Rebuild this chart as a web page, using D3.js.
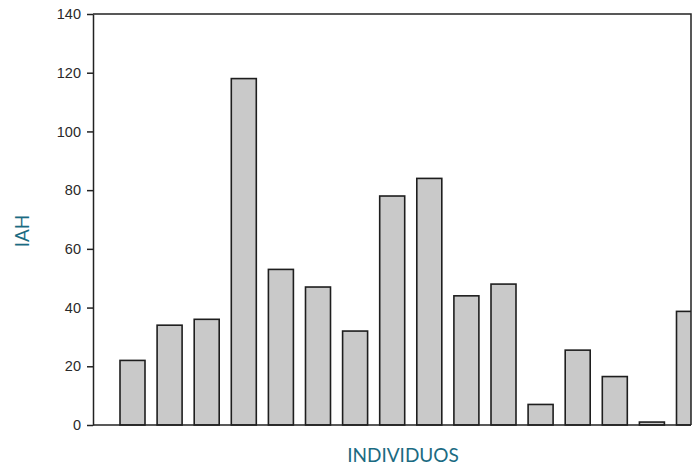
<!DOCTYPE html>
<html>
<head>
<meta charset="utf-8">
<script src="https://cdn.jsdelivr.net/npm/d3@7"></script>
<style>
  html, body { margin: 0; padding: 0; background: #fff; }
  svg { display: block; }
</style>
</head>
<body>
<svg id="chart" width="697" height="467"></svg>
<script>
// IAH per individual
const individuals = ["1","2","3","4","5","6","7","8","9","10","11","12","13","14","15","16"];
const iahValues = [22, 34, 36, 118, 53, 47, 32, 78, 84, 44, 48, 7, 25.5, 16.5, 1, 38.7];
const yTicks = [0, 20, 40, 60, 80, 100, 120, 140];

(function draw() {
  const svg = d3.select("#chart");
  const plotLeft = 93, plotRight = 691, plotTop = 14, plotBottom = 425;
  const teal = "#1b6b82";

  const y = d3.scaleLinear().domain([0, 140]).range([plotBottom, plotTop]);

  // bands run a little past the frame; the last bar is cut by the right border
  const step = 37.1;
  const firstCenter = 132.5;
  const x = d3.scaleBand()
    .domain(individuals)
    .range([firstCenter - step / 2, firstCenter - step / 2 + step * individuals.length])
    .paddingInner(1 - 25 / step)
    .paddingOuter((1 - 25 / step) / 2);

  svg.append("defs").append("clipPath").attr("id", "plot-clip")
    .append("rect").attr("x", plotLeft).attr("y", plotTop - 2)
    .attr("width", plotRight - plotLeft).attr("height", plotBottom - plotTop + 4);

  svg.append("g").attr("clip-path", "url(#plot-clip)")
    .selectAll("rect.bar")
    .data(iahValues)
    .join("rect")
    .attr("class", "bar")
    .attr("x", (d, i) => x(individuals[i]))
    .attr("y", d => y(d))
    .attr("width", x.bandwidth())
    .attr("height", d => plotBottom - y(d))
    .attr("fill", "#c9c9c9")
    .attr("stroke", "#1e1e1e")
    .attr("stroke-width", 1.6);

  // frame: top and right border
  svg.append("path")
    .attr("d", `M${plotLeft},${plotTop}H${plotRight}V${plotBottom}`)
    .attr("fill", "none").attr("stroke", "#222").attr("stroke-width", 1.5);

  // bottom baseline
  svg.append("line")
    .attr("x1", plotLeft).attr("x2", plotRight).attr("y1", plotBottom).attr("y2", plotBottom)
    .attr("stroke", "#222").attr("stroke-width", 1.5);

  // left axis
  const yAxis = d3.axisLeft(y).tickValues(yTicks).tickSize(6).tickPadding(6).tickSizeOuter(0);
  const ag = svg.append("g").attr("transform", `translate(${plotLeft},0)`).call(yAxis);
  ag.select(".domain").attr("stroke", "#222").attr("stroke-width", 1.5);
  ag.selectAll(".tick line").attr("stroke", "#222").attr("stroke-width", 1.5);
  ag.selectAll(".tick text")
    .attr("fill", "#2a2a2a")
    .style("font-family", "'Liberation Sans', Arial, sans-serif")
    .style("font-size", "14.5px");

  // axis titles
  svg.append("text")
    .attr("x", 403).attr("y", 462)
    .attr("text-anchor", "middle")
    .attr("fill", teal)
    .style("font-family", "Lato, 'Open Sans', sans-serif")
    .style("font-size", "19px")
    .text("INDIVIDUOS");

  svg.append("text")
    .attr("transform", "translate(29,231) rotate(-90)")
    .attr("text-anchor", "middle")
    .attr("fill", teal)
    .style("font-family", "Lato, 'Open Sans', sans-serif")
    .style("font-size", "19px")
    .text("IAH");
})();
</script>
</body>
</html>
